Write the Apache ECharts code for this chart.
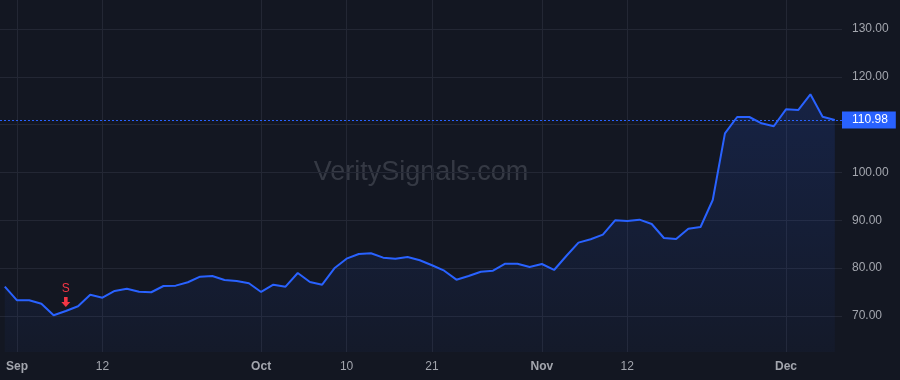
<!DOCTYPE html>
<html>
<head>
<meta charset="utf-8">
<script src="https://cdn.jsdelivr.net/npm/echarts@6/dist/echarts.min.js"></script>
<style>
html,body{margin:0;padding:0;background:#131722;}
#chart{width:900px;height:380px;}
</style>
</head>
<body>
<div id="chart"></div>
<script>
const dates = [
  '2024-08-30',
  '2024-09-03','2024-09-04','2024-09-05','2024-09-06',
  '2024-09-09','2024-09-10','2024-09-11','2024-09-12','2024-09-13',
  '2024-09-16','2024-09-17','2024-09-18','2024-09-19','2024-09-20',
  '2024-09-23','2024-09-24','2024-09-25','2024-09-26','2024-09-27',
  '2024-09-30',
  '2024-10-01','2024-10-02','2024-10-03','2024-10-04',
  '2024-10-07','2024-10-08','2024-10-09','2024-10-10','2024-10-11',
  '2024-10-14','2024-10-15','2024-10-16','2024-10-17','2024-10-18',
  '2024-10-21','2024-10-22','2024-10-23','2024-10-24','2024-10-25',
  '2024-10-28','2024-10-29','2024-10-30','2024-10-31',
  '2024-11-01',
  '2024-11-04','2024-11-05','2024-11-06','2024-11-07','2024-11-08',
  '2024-11-11','2024-11-12','2024-11-13','2024-11-14','2024-11-15',
  '2024-11-18','2024-11-19','2024-11-20','2024-11-21','2024-11-22',
  '2024-11-25','2024-11-26','2024-11-27','2024-11-29',
  '2024-12-02','2024-12-03','2024-12-04','2024-12-05','2024-12-06'
];
const prices = [
  76.13,
  73.28, 73.28, 72.57, 70.15,
  71.05, 72.03, 74.45, 73.83, 75.23,
  75.71, 75.08, 74.96, 76.27, 76.34,
  77.05, 78.22, 78.36, 77.53, 77.32,
  76.84,
  75.02, 76.55, 76.13, 78.99,
  77.11, 76.55, 79.97, 81.98, 82.96,
  83.11, 82.19, 81.98, 82.34, 81.65,
  80.60, 79.47, 77.59, 78.36, 79.26,
  79.47, 80.93, 80.93, 80.24,
  80.87,
  79.62, 82.54, 85.33, 86.04, 87.00,
  90.00, 89.86, 90.14, 89.23, 86.31,
  86.10, 88.25, 88.61, 94.25, 108.19,
  111.60, 111.60, 110.28, 109.66,
  113.21, 113.06, 116.35, 111.66, 110.98
];
const xTickIndices = [1, 8, 21, 28, 35, 44, 51, 64];
const xTickLabels = ['Sep', '12', 'Oct', '10', '21', 'Nov', '12', 'Dec'];
const monthLabels = ['Sep', 'Oct', 'Nov', 'Dec'];
const yTickValues = [70, 80, 90, 100, 110, 120, 130];
const signalIndex = 5;
const signalText = 'S';
const lastPrice = prices[prices.length - 1];
const watermark = 'VeritySignals.com';

const FONT = '"Liberation Sans", Arial, sans-serif';
const seriesData = prices.map((v, i) => [i, v]);

const chart = echarts.init(document.getElementById('chart'), null, {renderer: 'canvas'});
chart.setOption({
  backgroundColor: '#131722',
  animation: false,
  textStyle: {fontFamily: FONT},
  graphic: [{
    type: 'text',
    x: 421, y: 173,
    z: 0,
    silent: true,
    style: {
      text: watermark,
      fontSize: 27,
      fontFamily: FONT,
      fill: 'rgba(178,181,190,0.22)',
      textAlign: 'center',
      textVerticalAlign: 'middle'
    }
  }],
  grid: {left: 0, right: 58, top: 0, bottom: 28, containLabel: false, outerBoundsMode: 'none'},
  xAxis: {
    type: 'value',
    min: -0.393,
    max: 68.59,
    axisLine: {show: false},
    axisTick: {show: false, customValues: xTickIndices},
    splitLine: {show: true, lineStyle: {color: '#232734', width: 1}},
    axisLabel: {
      customValues: xTickIndices,
      margin: 9,
      fontSize: 12,
      color: '#a3a6ae',
      fontFamily: FONT,
      formatter: function (v) {
        const k = xTickIndices.indexOf(Math.round(v));
        const t = k >= 0 ? xTickLabels[k] : '';
        return monthLabels.indexOf(t) >= 0 ? '{b|' + t + '}' : t;
      },
      rich: {b: {fontWeight: 'bold', fontSize: 12, color: '#a3a6ae', fontFamily: FONT}}
    }
  },
  yAxis: {
    type: 'value',
    position: 'right',
    min: 62.47,
    max: 136.06,
    axisLine: {show: false},
    axisTick: {show: false, customValues: yTickValues},
    splitLine: {show: true, lineStyle: {color: '#232734', width: 1}},
    axisLabel: {
      customValues: yTickValues,
      margin: 10,
      fontSize: 12,
      color: '#a3a6ae',
      fontFamily: FONT,
      verticalAlign: 'middle',
      padding: [3, 0, 0, 0],
      formatter: v => v.toFixed(2)
    }
  },
  series: [{
    type: 'line',
    data: seriesData,
    showSymbol: false,
    symbol: 'none',
    lineStyle: {color: '#2962ff', width: 2},
    itemStyle: {color: '#2962ff'},
    areaStyle: {
      color: new echarts.graphic.LinearGradient(0, 0, 0, 1, [
        {offset: 0, color: 'rgba(41,98,255,0.22)'},
        {offset: 1, color: 'rgba(41,98,255,0.05)'}
      ])
    },
    markLine: {
      silent: true,
      symbol: 'none',
      lineStyle: {color: '#2962ff', type: [2, 2], width: 1},
      label: {
        show: true,
        position: 'end',
        distance: 0,
        formatter: () => lastPrice.toFixed(2),
        backgroundColor: '#2962ff',
        color: '#ffffff',
        fontSize: 12,
        fontFamily: FONT,
        padding: [3, 8, 2, 10],
        lineHeight: 12
      },
      data: [{yAxis: lastPrice}]
    },
    markPoint: {
      silent: true,
      symbol: 'path://M3,0 L7,0 L7,5 L10,5 L5,10 L0,5 L3,5 Z',
      symbolSize: [9, 10],
      symbolOffset: [0, -9],
      itemStyle: {color: '#f23645'},
      label: {
        show: true,
        position: 'top',
        distance: 2,
        formatter: signalText,
        color: '#f23645',
        fontSize: 12,
        fontFamily: FONT
      },
      data: [{coord: [signalIndex, prices[signalIndex]]}]
    }
  }]
});
</script>
</body>
</html>
